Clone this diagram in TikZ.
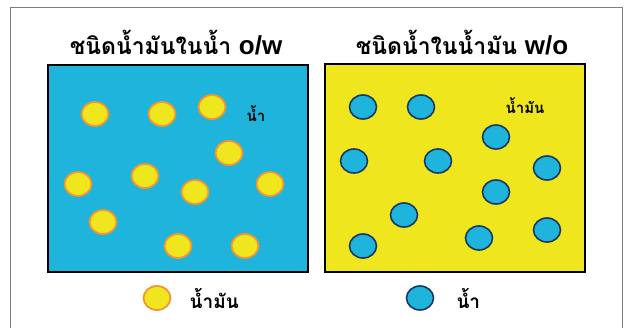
\documentclass[tikz,border=0pt]{standalone}
\usepackage{fontspec}
\newfontfamily\thaifont[Script=Thai]{Loma}
\setsansfont{Liberation Sans}
\usetikzlibrary{positioning, shapes.geometric}

\definecolor{waterblue}{RGB}{30,180,220}
\definecolor{oilyellow}{RGB}{240,230,30}
\definecolor{oilrim}{RGB}{240,150,50}
\definecolor{waterrim}{RGB}{25,55,100}

\tikzset{
  tank/.style={draw=black, line width=1.6pt},
  drop/.style={ellipse, line width=1.8pt, minimum width=27pt,
    minimum height=24pt, inner sep=0pt},
  oildrop/.style={drop, fill=oilyellow, draw=oilrim},
  waterdrop/.style={drop, fill=waterblue, draw=waterrim, line width=1.6pt},
  heading/.style={font=\thaifont\bfseries\fontsize{23}{26}\selectfont, inner sep=0pt},
  tag/.style={font=\thaifont\bfseries\fontsize{15}{18}\selectfont, inner sep=0pt},
  legendtext/.style={font=\thaifont\bfseries\fontsize{19}{22}\selectfont, inner sep=0pt}
}

\begin{document}
\begin{tikzpicture}[x=1pt, y=-1pt]
    \useasboundingbox (0,0) rectangle (626,327);
    \draw[gray, line width=1pt] (10,330) -- (10,7) -- (622,7) -- (622,330);
    % the two emulsions
    \filldraw[tank, fill=waterblue] (48,65) rectangle (308,272);
    \filldraw[tank, fill=oilyellow] (325,64) rectangle (585,272);
    \node[heading] (t0) at (176,43) {ชนิดน้ำมันในน้ำ {\sffamily\bfseries\fontsize{26}{28}\selectfont o/w}};
    \node[heading] (t1) at (462,43) {ชนิดน้ำในน้ำมัน {\sffamily\bfseries\fontsize{26}{28}\selectfont w/o}};
    % oil in water
    \foreach \x/\y [count=\i] in {95/114, 162/114, 212/107, 229/153, 145/176,
      78/184, 195/192, 270/184, 103/222, 178/246, 245/246}
      \node[oildrop] (o\i) at (\x,\y) {};
    \node[tag] (w0) at (256,114) {น้ำ};
    % water in oil
    \foreach \x/\y [count=\i] in {363/107, 421/107, 496/137, 354/161, 438/161,
      547/168, 496/192, 404/215, 363/246, 479/238, 547/230}
      \node[waterdrop] (w\i) at (\x,\y) {};
    \node[tag] (m0) at (525,106) {น้ำมัน};
    % legend
    \node[oildrop] (k0) at (157,298) {};
    \node[legendtext] (k1) [right=18pt of k0] {น้ำมัน};
    \node[waterdrop] (k2) at (420,298) {};
    \node[legendtext] (k3) [right=22pt of k2] {น้ำ};
  \end{tikzpicture}
\end{document}
